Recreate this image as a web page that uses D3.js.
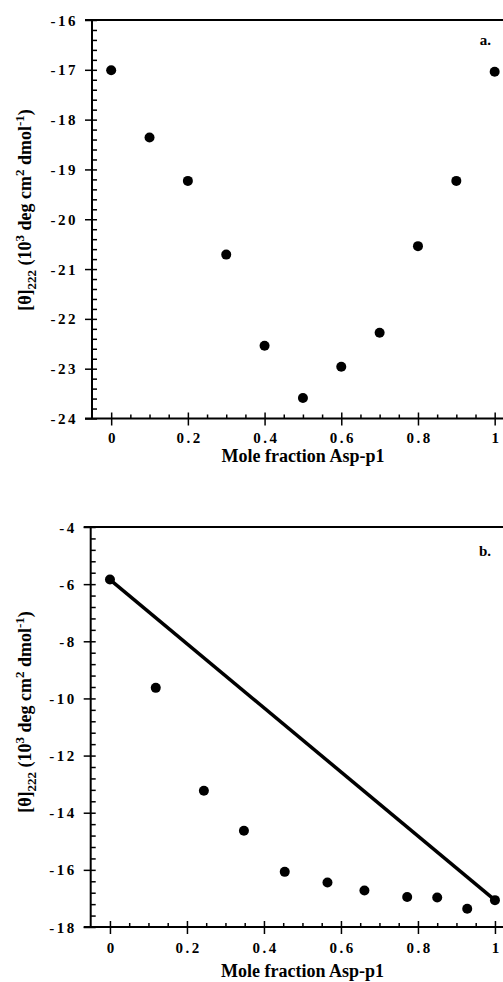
<!DOCTYPE html>
<html>
<head>
<meta charset="utf-8">
<script src="https://cdn.jsdelivr.net/npm/d3@7"></script>
<style>
  html, body { margin: 0; padding: 0; background: #fff; }
  svg { display: block; }
  text { font-family: "Liberation Serif", "Times New Roman", serif; font-weight: bold; fill: #000; }
</style>
</head>
<body>
<svg id="chart" width="503" height="982"></svg>
<script>
// ---- Data ----
const moleFractionA = [0, 0.1, 0.2, 0.3, 0.4, 0.5, 0.6, 0.7, 0.8, 0.9, 1.0];
const thetaA = [-17.01, -18.36, -19.23, -20.71, -22.54, -23.59, -22.96, -22.28, -20.54, -19.23, -17.04];

const moleFractionB = [0, 0.119, 0.244, 0.348, 0.454, 0.565, 0.661, 0.772, 0.850, 0.928, 1.0];
const thetaB = [-5.84, -9.63, -13.23, -14.63, -16.07, -16.44, -16.72, -16.95, -16.97, -17.36, -17.06];

const lineBx = [0, 1];
const lineBy = [-5.84, -17.06];

const xTicks = [0, 0.2, 0.4, 0.6, 0.8, 1];
const xTickLabels = ["0", "0.2", "0.4", "0.6", "0.8", "1"];
const yTicksA = [-24, -23, -22, -21, -20, -19, -18, -17, -16];
const yTicksB = [-18, -16, -14, -12, -10, -8, -6, -4];

const xTitle = "Mole fraction Asp-p1";

// ---- Drawing ----
const svg = d3.select("#chart");

function range(a, b, step) {
  const out = [];
  const n = Math.round((b - a) / step);
  for (let i = 0; i <= n; i++) out.push(+(a + i * step).toFixed(4));
  return out;
}

function drawPanel(cfg) {
  const g = svg.append("g");
  const x = d3.scaleLinear().domain([-0.05, 1.1]).range([cfg.left, cfg.left + 1.15 * cfg.unit]);
  const y = d3.scaleLinear().domain(cfg.yDomain).range([cfg.bottom, cfg.top]);
  const xEnd = 503;

  // x minor ticks (inside)
  const xMinor = range(0, 1.05, 0.05).filter(v => !xTicks.some(t => Math.abs(t - v) < 1e-6));
  g.append("g").attr("transform", `translate(0,${cfg.bottom})`)
    .call(d3.axisBottom(x).tickValues(xMinor).tickSize(-4).tickFormat(""))
    .call(s => { s.select(".domain").remove(); s.selectAll("line").attr("stroke-width", 1.5); });
  // x major ticks crossing
  g.append("g").attr("transform", `translate(0,${cfg.bottom})`)
    .call(d3.axisBottom(x).tickValues(xTicks).tickSize(-6).tickFormat(""))
    .call(s => { s.select(".domain").remove(); s.selectAll("line").attr("stroke-width", 1.5); });
  const xAx = g.append("g").attr("transform", `translate(0,${cfg.bottom})`)
    .call(d3.axisBottom(x).tickValues(xTicks).tickSize(7).tickPadding(0)
      .tickFormat((d, i) => xTickLabels[i]))
    .call(s => { s.select(".domain").remove(); s.selectAll("line").attr("stroke-width", 1.5); });
  xAx.selectAll("text")
    .attr("y", cfg.xLabelDy).attr("dy", null)
    .style("font-size", "15px").style("letter-spacing", "2.5px")
    .attr("dx", "1.2px");

  // y minor ticks (inside)
  const yMinor = range(cfg.yDomain[0], cfg.yDomain[1], cfg.yMinorStep)
    .filter(v => !cfg.yTicks.some(t => Math.abs(t - v) < 1e-6));
  g.append("g").attr("transform", `translate(${cfg.left},0)`)
    .call(d3.axisLeft(y).tickValues(yMinor).tickSize(-5).tickFormat(""))
    .call(s => { s.select(".domain").remove(); s.selectAll("line").attr("stroke-width", 1.5); });
  g.append("g").attr("transform", `translate(${cfg.left},0)`)
    .call(d3.axisLeft(y).tickValues(cfg.yTicks).tickSize(-5).tickFormat(""))
    .call(s => { s.select(".domain").remove(); s.selectAll("line").attr("stroke-width", 1.5); });
  const yAx = g.append("g").attr("transform", `translate(${cfg.left},0)`)
    .call(d3.axisLeft(y).tickValues(cfg.yTicks).tickSize(7).tickPadding(7)
      .tickFormat(d => String(d)))
    .call(s => { s.select(".domain").remove(); s.selectAll("line").attr("stroke-width", 1.5); });
  yAx.selectAll("text")
    .style("font-size", "15px").style("letter-spacing", "2.5px")
    .attr("dy", "0.34em");

  // axis lines and top frame
  g.append("line").attr("x1", cfg.left - 7).attr("x2", xEnd)
    .attr("y1", cfg.bottom).attr("y2", cfg.bottom).attr("stroke", "#000").attr("stroke-width", 2);
  g.append("line").attr("x1", cfg.left).attr("x2", cfg.left)
    .attr("y1", cfg.top).attr("y2", cfg.bottom).attr("stroke", "#000").attr("stroke-width", 2);
  g.append("line").attr("x1", cfg.left - 7).attr("x2", xEnd)
    .attr("y1", cfg.top).attr("y2", cfg.top).attr("stroke", "#000").attr("stroke-width", 2);

  // optional line
  if (cfg.lineX) {
    const pts = cfg.lineX.map((v, i) => [v, cfg.lineY[i]]);
    g.append("path").datum(pts)
      .attr("d", d3.line().x(d => x(d[0])).y(d => y(d[1])))
      .attr("fill", "none").attr("stroke", "#000").attr("stroke-width", 3.5);
  }

  // points
  g.append("g").selectAll("circle")
    .data(cfg.xs.map((v, i) => [v, cfg.ys[i]]))
    .join("circle")
    .attr("cx", d => x(d[0])).attr("cy", d => y(d[1])).attr("r", 5)
    .attr("fill", "#000");

  // x title
  g.append("text").attr("x", x(0.5)).attr("y", cfg.titleY)
    .attr("text-anchor", "middle").style("font-size", "18px").text(xTitle);

  // y title
  const cy = cfg.yLabelCenter;
  const yt = g.append("text")
    .attr("transform", `translate(31,${cy}) rotate(-90)`)
    .attr("text-anchor", "middle").style("font-size", "18px");
  yt.append("tspan").text("[θ]");
  yt.append("tspan").attr("dy", 5).style("font-size", "13px").text("222");
  yt.append("tspan").attr("dy", -5).text(" (10");
  yt.append("tspan").attr("dy", -7).style("font-size", "13px").text("3");
  yt.append("tspan").attr("dy", 7).text(" deg cm");
  yt.append("tspan").attr("dy", -7).style("font-size", "13px").text("2");
  yt.append("tspan").attr("dy", 7).text(" dmol");
  yt.append("tspan").attr("dy", -7).style("font-size", "13px").text("-1");
  yt.append("tspan").attr("dy", 7).text(")");

  // panel letter
  g.append("text").attr("x", 491).attr("y", cfg.letterY)
    .attr("text-anchor", "end").style("font-size", "15px").text(cfg.letter);
}

drawPanel({
  left: 92, unit: 383.5, top: 20, bottom: 418.5,
  yDomain: [-24, -16], yTicks: yTicksA, yMinorStep: 0.2,
  xs: moleFractionA, ys: thetaA,
  xLabelDy: 24.5, titleY: 462, yLabelCenter: 210,
  letter: "a.", letterY: 45
});

drawPanel({
  left: 90.7, unit: 385, top: 527, bottom: 927,
  yDomain: [-18, -4], yTicks: yTicksB, yMinorStep: 0.4,
  xs: moleFractionB, ys: thetaB,
  lineX: lineBx, lineY: lineBy,
  xLabelDy: 26, titleY: 977, yLabelCenter: 712,
  letter: "b.", letterY: 556
});
</script>
</body>
</html>
